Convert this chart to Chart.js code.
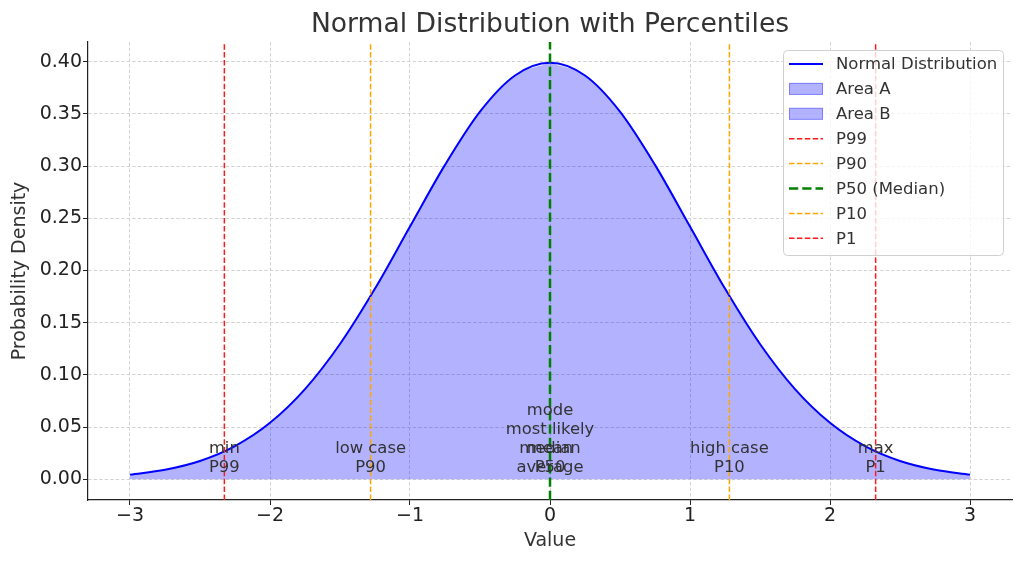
<!DOCTYPE html>
<html>
<head>
<meta charset="utf-8">
<script src="https://cdn.jsdelivr.net/npm/chart.js@4.4.1/dist/chart.umd.min.js"></script>
<style>body{margin:0;background:#fff}</style>
</head>
<body>
<canvas id="chart" width="1024" height="564"></canvas>
<script>
// curve, every 0.25 on the x axis
const densityX = [-3, -2.75, -2.5, -2.25, -2, -1.75, -1.5, -1.25, -1, -0.75, -0.5, -0.25, 0,
                  0.25, 0.5, 0.75, 1, 1.25, 1.5, 1.75, 2, 2.25, 2.5, 2.75, 3];
const densityY = [0.0044, 0.0091, 0.0175, 0.0317, 0.054, 0.0863, 0.1295, 0.1826, 0.242, 0.3011, 0.3521, 0.3867, 0.3989,
                  0.3867, 0.3521, 0.3011, 0.242, 0.1826, 0.1295, 0.0863, 0.054, 0.0317, 0.0175, 0.0091, 0.0044];

const percentileNames = ['P99', 'P90', 'P50 (Median)', 'P10', 'P1'];
const percentileValues = [-2.326, -1.2816, 0, 1.2816, 2.326];
const percentileNotes = [['min', 'P99'], ['low case', 'P90'], ['median', 'P50'], ['high case', 'P10'], ['max', 'P1']];
const meanValue = 0;
const meanNotes = ['mode', 'most likely', 'mean', 'average'];

const xTicks = [-3, -2, -1, 0, 1, 2, 3];
const yTicks = [0, 0.05, 0.1, 0.15, 0.2, 0.25, 0.3, 0.35, 0.4];
const xRange = [-3.3, 3.3];
const yRange = [-0.0199, 0.4188];

const titleText = 'Normal Distribution with Percentiles';

// styles
const lineColors = ['#ff1a1a', '#ffa500', '#008000', '#ffa500', '#ff1a1a'];
const lineWidths = [1.5, 1.5, 2.5, 1.5, 1.5];
const lineDashes = [[5.5, 2.4], [5.5, 2.4], [9.25, 4], [5.5, 2.4], [5.5, 2.4]];
const fillColor = 'rgba(0, 0, 255, 0.3)';
const textColor = '#333333';
const fontFamily = '"DejaVu Sans", sans-serif';

const curve = densityX.map((x, i) => ({ x, y: densityY[i] }));

const datasets = [
    {
        label: 'Normal Distribution',
        data: curve,
        borderColor: '#0000ff',
        borderWidth: 2,
        cubicInterpolationMode: 'monotone',
        fill: false,
        order: 1
    },
    {
        label: 'Area A',
        data: curve.filter(p => p.x <= meanValue),
        borderColor: 'rgba(0,0,0,0)',
        borderWidth: 0,
        backgroundColor: fillColor,
        cubicInterpolationMode: 'monotone',
        fill: 'origin',
        order: 2
    },
    {
        label: 'Area B',
        data: curve.filter(p => p.x >= meanValue),
        borderColor: 'rgba(0,0,0,0)',
        borderWidth: 0,
        backgroundColor: fillColor,
        cubicInterpolationMode: 'monotone',
        fill: 'origin',
        order: 2
    }
];

percentileValues.forEach((v, i) => {
    datasets.push({
        label: percentileNames[i],
        data: [{ x: v, y: yRange[0] }, { x: v, y: yRange[1] }],
        borderColor: lineColors[i],
        borderWidth: lineWidths[i],
        borderDash: lineDashes[i],
        fill: false,
        order: 0
    });
});

// title centred over the plot area, like the original
const titlePlugin = {
    id: 'titlePlugin',
    afterDraw(chart) {
        const { ctx, chartArea } = chart;
        ctx.save();
        ctx.font = '26.6px ' + fontFamily;
        ctx.fillStyle = textColor;
        ctx.textAlign = 'center';
        ctx.textBaseline = 'alphabetic';
        ctx.fillText(titleText, (chartArea.left + chartArea.right) / 2, 32);
        ctx.restore();
    }
};

const notesPlugin = {
    id: 'notesPlugin',
    afterDatasetsDraw(chart) {
        const { ctx, scales: { x, y } } = chart;
        ctx.save();
        ctx.font = '16.4px ' + fontFamily;
        ctx.fillStyle = textColor;
        ctx.textAlign = 'center';
        ctx.textBaseline = 'middle';
        const bottomLine = y.getPixelForValue(0) - 11;
        const step = 19;
        const drawNote = (value, lines) => {
            const px = x.getPixelForValue(value);
            lines.forEach((t, k) => {
                ctx.fillText(t, px, bottomLine - (lines.length - 1 - k) * step);
            });
        };
        percentileValues.forEach((v, i) => drawNote(v, percentileNotes[i]));
        drawNote(meanValue, meanNotes);
        ctx.restore();
    }
};

const legendBox = {
    id: 'legendBox',
    afterDraw(chart) {
        const { ctx, chartArea } = chart;
        const w = 220, h = 205;
        const x0 = chartArea.right - 9 - w;
        const y0 = chartArea.top + 8;
        ctx.save();
        ctx.beginPath();
        ctx.roundRect(x0 + 0.5, y0 + 0.5, w, h, 4);
        ctx.fillStyle = 'rgba(255,255,255,0.8)';
        ctx.fill();
        ctx.strokeStyle = '#d0d0d0';
        ctx.lineWidth = 1;
        ctx.stroke();

        ctx.font = '16.5px ' + fontFamily;
        ctx.textBaseline = 'middle';
        ctx.textAlign = 'left';
        chart.data.datasets.forEach((ds, i) => {
            const cy = y0 + 14 + i * 24.9;
            const sx = x0 + 6, ex = x0 + 40;
            if (ds.fill) {
                ctx.fillStyle = ds.backgroundColor;
                ctx.fillRect(sx, cy - 6, ex - sx, 12);
                ctx.strokeStyle = 'rgba(0,0,255,0.3)';
                ctx.lineWidth = 1;
                ctx.strokeRect(sx + 0.5, cy - 5.5, ex - sx - 1, 11);
            } else {
                ctx.beginPath();
                ctx.setLineDash(ds.borderDash || []);
                ctx.strokeStyle = ds.borderColor;
                ctx.lineWidth = ds.borderWidth;
                ctx.moveTo(sx, cy);
                ctx.lineTo(ex, cy);
                ctx.stroke();
                ctx.setLineDash([]);
            }
            ctx.fillStyle = textColor;
            ctx.fillText(ds.label, x0 + 53, cy + 1);
        });
        ctx.restore();
    }
};

const fmtX = v => (v < 0 ? '\u2212' + Math.abs(v) : String(v));

new Chart(document.getElementById('chart').getContext('2d'), {
    type: 'scatter',
    data: { datasets },
    options: {
        responsive: false,
        animation: false,
        devicePixelRatio: 1,
        showLine: true,
        elements: { point: { radius: 0, hoverRadius: 0 } },
        layout: { padding: { left: 0, right: 12, top: 42, bottom: 0 } },
        plugins: {
            legend: { display: false },
            tooltip: { enabled: false },
            title: { display: false }
        },
        scales: {
            x: {
                type: 'linear',
                min: xRange[0],
                max: xRange[1],
                afterBuildTicks: s => { s.ticks = xTicks.map(value => ({ value })); },
                afterFit: s => { s.height = 64; },
                ticks: {
                    color: '#222',
                    font: { family: fontFamily, size: 19 },
                    padding: 0,
                    maxRotation: 0,
                    callback: v => fmtX(v)
                },
                grid: {
                    color: '#d3d3d3',
                    lineWidth: 1,
                    tickLength: 5,
                    tickColor: '#222',
                    tickBorderDash: []
                },
                border: { color: '#222', width: 1.2, dash: [3.5, 2] },
                title: {
                    display: true,
                    text: 'Value',
                    color: textColor,
                    font: { family: fontFamily, size: 19 },
                    padding: { top: 0, bottom: 12 }
                }
            },
            y: {
                type: 'linear',
                min: yRange[0],
                max: yRange[1],
                afterBuildTicks: s => { s.ticks = yTicks.map(value => ({ value })); },
                afterFit: s => { s.width = 88; },
                ticks: {
                    color: '#222',
                    font: { family: fontFamily, size: 19 },
                    padding: 1,
                    callback: v => v.toFixed(2)
                },
                grid: {
                    color: '#d3d3d3',
                    lineWidth: 1,
                    tickLength: 5,
                    tickColor: '#222',
                    tickBorderDash: []
                },
                border: { color: '#222', width: 1.2, dash: [3.5, 2] },
                title: {
                    display: true,
                    text: 'Probability Density',
                    color: textColor,
                    font: { family: fontFamily, size: 19 },
                    padding: { top: 9, bottom: 0 }
                }
            }
        }
    },
    plugins: [notesPlugin, legendBox, titlePlugin]
});
</script>
</body>
</html>
